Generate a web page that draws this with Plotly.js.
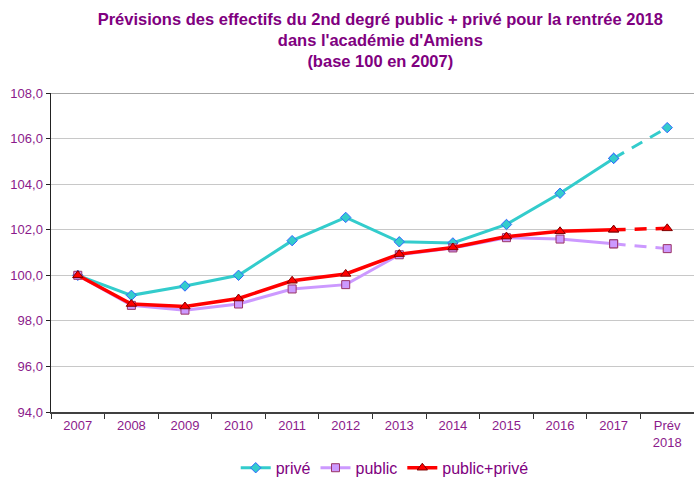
<!DOCTYPE html>
<html><head><meta charset="utf-8">
<script src="https://cdn.plot.ly/plotly-3.0.1.min.js"></script>
<style>body{margin:0;background:#fff}#chart{width:694px;height:501px}</style>
</head><body><div id="chart"></div>
<script>
const categories = ["2007","2008","2009","2010","2011","2012","2013","2014","2015","2016","2017","Prév<br>2018"];
const prive = [100.0, 99.12, 99.53, 100.0, 101.52, 102.54, 101.47, 101.42, 102.23, 103.6, 105.13, 106.48];
const publicV = [100.0, 98.68, 98.47, 98.74, 99.4, 99.59, 100.9, 101.2, 101.65, 101.59, 101.38, 101.17];
const total = [100.0, 98.74, 98.63, 98.98, 99.76, 100.06, 100.93, 101.22, 101.7, 101.93, 102.0, 102.06];

const series = [
  {name:"privé", y:prive, line:"#33CCCC", width:3, sym:"diamond", fill:"#33CCCC", border:"#3366FF", size:8},
  {name:"public", y:publicV, line:"#CC99FF", width:3, sym:"square", fill:"#CC99FF", border:"#993366", size:8},
  {name:"public+privé", y:total, line:"#FF0000", width:3.5, sym:"triangle-up", fill:"#FF0000", border:"#800000", size:9}
];
const n = categories.length;
const purple = "#8B1A8B";
const traces = [];
series.forEach(s => {
  traces.push({
    x: categories.slice(0, n-1), y: s.y.slice(0, n-1), name: s.name, type: "scatter", mode: "lines+markers",
    line: {color: s.line, width: s.width},
    marker: {symbol: s.sym, color: s.fill, size: s.size, line: {color: s.border, width: 1}}
  });
});
series.forEach(s => {
  traces.push({
    x: categories.slice(n-2), y: s.y.slice(n-2), name: s.name, type: "scatter", mode: "lines+markers", showlegend: false,
    line: {color: s.line, width: s.width, dash: "12px,9px"},
    marker: {symbol: s.sym, color: s.fill, size: s.size, line: {color: s.border, width: 1}}
  });
});

const layout = {
  width: 694, height: 501,
  margin: {l: 51, r: 0, t: 93, b: 89},
  separators: ", ",
  paper_bgcolor: "#fff", plot_bgcolor: "#fff",
  font: {family: "Liberation Sans, Arial, sans-serif", size: 13, color: purple},
  title: {
    text: "<b>Prévisions des effectifs du 2nd degré public + privé pour la rentrée 2018<br>dans l'académie d'Amiens<br>(base 100 en 2007)</b>",
    font: {family: "Liberation Sans, Arial, sans-serif", size: 16.5, color: "#800080"},
    x: 0.548, xanchor: "center", y: 0.951, yanchor: "top"
  },
  xaxis: {
    type: "category", categoryorder: "array", categoryarray: categories,
    showgrid: false, showline: true, linecolor: "#404040", linewidth: 2,
    ticks: "outside", tickson: "boundaries", ticklen: 5, tickcolor: "#333",
    tickfont: {size: 13, color: purple}, range: [-0.5, n-0.5]
  },
  yaxis: {
    range: [94, 108], dtick: 2, tickformat: ".1f",
    showgrid: true, gridcolor: "#C8C8C8", gridwidth: 1,
    showline: true, linecolor: "#222", linewidth: 1.5,
    ticks: "outside", ticklen: 4, tickcolor: "#222", zeroline: false,
    tickfont: {size: 13, color: purple}
  },
  shapes: [{type:"line", xref:"paper", yref:"y", x0:0, x1:1, y0:108, y1:108, line:{color:"#888", width:1.5}}],
  legend: {
    orientation: "h", x: 0.519, xanchor: "center", y: -0.175, yanchor: "middle",
    font: {size: 16, color: "#800080"}, itemwidth: 30, tracegroupgap: 0
  }
};
Plotly.newPlot("chart", traces, layout, {displayModeBar: false, staticPlot: true});
</script></body></html>
